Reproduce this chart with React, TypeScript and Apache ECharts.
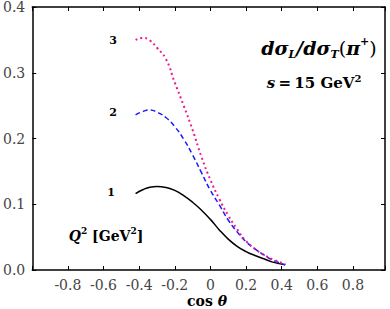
import React, { useEffect, useRef } from "react";
import * as echarts from "echarts";

const cosTheta = [-0.42, -0.38, -0.34, -0.30, -0.25, -0.20, -0.15, -0.10, -0.05, 0, 0.05, 0.10, 0.15, 0.20, 0.25, 0.30, 0.35, 0.42];
const q2One = [0.116, 0.122, 0.126, 0.127, 0.1255, 0.121, 0.113, 0.103, 0.091, 0.077, 0.061, 0.047, 0.036, 0.028, 0.022, 0.017, 0.012, 0.008];
const q2Two = [0.236, 0.241, 0.2435, 0.240, 0.232, 0.218, 0.199, 0.175, 0.148, 0.121, 0.099, 0.076, 0.058, 0.043, 0.032, 0.023, 0.015, 0.008];
const q2Three = [0.350, 0.353, 0.349, 0.338, 0.321, 0.285, 0.250, 0.213, 0.172, 0.137, 0.108, 0.083, 0.062, 0.044, 0.032, 0.023, 0.016, 0.009];
const curveLabels = ["1", "2", "3"];

const FONT = "DejaVu Serif";

function pairs(ys: number[]) {
  return cosTheta.map((x, i) => [x, ys[i]]);
}

export default function App() {
  const ref = useRef<HTMLDivElement>(null);
  useEffect(() => {
    document.body.style.margin = "0";
    if (!ref.current) return;
    const chart = echarts.init(ref.current, undefined, { renderer: "svg" });
    const tickStyle = { show: true, inside: true, length: 4, lineStyle: { color: "#000", width: 1 } };
    const lineStyleAxis = { show: true, onZero: false, lineStyle: { color: "#000", width: 1.5 } };
    chart.setOption({
      animation: false,
      grid: { left: 30, top: 6, width: 355, height: 264, containLabel: false },
      xAxis: [
        {
          type: "value",
          min: -1,
          max: 0.98,
          interval: 0.2,
          axisLine: lineStyleAxis,
          axisTick: tickStyle,
          splitLine: { show: false },
          axisLabel: {
            margin: 8,
            color: "#444",
            fontFamily: FONT,
            fontSize: 14,
            lineHeight: 14,
            formatter: (v: number) =>
              v < -0.99 || v > 0.9 ? "" : Math.abs(v) < 1e-9 ? "0" : String(Number(v.toFixed(1))),
          },
        },
        {
          type: "value",
          position: "top",
          min: -1,
          max: 0.98,
          interval: 0.2,
          axisLine: lineStyleAxis,
          axisTick: tickStyle,
          splitLine: { show: false },
          axisLabel: { show: false },
        },
      ],
      yAxis: [
        {
          type: "value",
          min: 0,
          max: 0.4,
          interval: 0.1,
          axisLine: lineStyleAxis,
          axisTick: tickStyle,
          splitLine: { show: false },
          axisLabel: {
            margin: 7,
            color: "#444",
            fontFamily: FONT,
            fontSize: 14,
            formatter: (v: number) => v.toFixed(1),
          },
        },
        {
          type: "value",
          position: "right",
          min: 0,
          max: 0.4,
          interval: 0.1,
          axisLine: lineStyleAxis,
          axisTick: tickStyle,
          splitLine: { show: false },
          axisLabel: { show: false },
        },
      ],
      series: [
        {
          type: "line",
          data: pairs(q2One),
          smooth: true,
          showSymbol: false,
          lineStyle: { color: "#000", width: 1.5 },
        },
        {
          type: "line",
          data: pairs(q2Two),
          smooth: true,
          showSymbol: false,
          lineStyle: { color: "#1a1aff", width: 1.5, type: [5, 3] },
        },
        {
          type: "line",
          data: pairs(q2Three),
          smooth: true,
          showSymbol: false,
          lineStyle: { color: "#ee1a8f", width: 2, type: [2, 3] },
        },
      ],
      graphic: [
        {
          type: "text",
          x: 319,
          y: 48,
          style: {
            text: "{b|d}{g|σ}{s|L}{b|/d}{g|σ}{s|T}{r|(}{g|π}{p|+}{r|)}",
            align: "center",
            verticalAlign: "middle",
            fill: "#000",
            rich: {
              b: { fontFamily: FONT, fontSize: 19, fontWeight: "bold", fontStyle: "italic", lineHeight: 24 },
              g: { fontFamily: FONT, fontSize: 19, fontWeight: "bold", fontStyle: "italic", lineHeight: 24 },
              r: { fontFamily: FONT, fontSize: 19, fontWeight: "normal", lineHeight: 24 },
              s: { fontFamily: FONT, fontSize: 11, fontWeight: "bold", fontStyle: "italic", lineHeight: 13, verticalAlign: "bottom" },
              p: { fontFamily: FONT, fontSize: 11, fontWeight: "bold", lineHeight: 13, verticalAlign: "top" },
            },
          },
        },
        {
          type: "text",
          x: 314,
          y: 83,
          style: {
            text: "{i|s} {b|=} {b|15 GeV}{p|2}",
            align: "center",
            verticalAlign: "middle",
            fill: "#000",
            rich: {
              i: { fontFamily: FONT, fontSize: 15, fontWeight: "bold", fontStyle: "italic", lineHeight: 20 },
              b: { fontFamily: FONT, fontSize: 15, fontWeight: "bold", lineHeight: 20 },
              p: { fontFamily: FONT, fontSize: 10, fontWeight: "bold", lineHeight: 12, verticalAlign: "top" },
            },
          },
        },
        {
          type: "text",
          x: 207,
          y: 301,
          style: {
            text: "{b|cos }{i|θ}",
            align: "center",
            verticalAlign: "middle",
            fill: "#000",
            rich: {
              b: { fontFamily: FONT, fontSize: 14, fontWeight: "bold", lineHeight: 14 },
              i: { fontFamily: FONT, fontSize: 14, fontWeight: "bold", fontStyle: "italic", lineHeight: 14 },
            },
          },
        },
        {
          type: "text",
          x: 106,
          y: 236,
          style: {
            text: "{i|Q}{p|2}{b| [GeV}{p|2}{b|]}",
            align: "center",
            verticalAlign: "middle",
            fill: "#000",
            rich: {
              i: { fontFamily: FONT, fontSize: 14, fontWeight: "bold", fontStyle: "italic", lineHeight: 20 },
              b: { fontFamily: FONT, fontSize: 14, fontWeight: "bold", lineHeight: 20 },
              p: { fontFamily: FONT, fontSize: 9, fontWeight: "bold", lineHeight: 12, verticalAlign: "top" },
            },
          },
        },
        {
          type: "text",
          x: 111,
          y: 192,
          style: { text: curveLabels[0], align: "center", verticalAlign: "middle", fontFamily: FONT, fontSize: 11, fontWeight: "bold", fill: "#000" },
        },
        {
          type: "text",
          x: 113,
          y: 112,
          style: { text: curveLabels[1], align: "center", verticalAlign: "middle", fontFamily: FONT, fontSize: 11, fontWeight: "bold", fill: "#000" },
        },
        {
          type: "text",
          x: 113,
          y: 40,
          style: { text: curveLabels[2], align: "center", verticalAlign: "middle", fontFamily: FONT, fontSize: 11, fontWeight: "bold", fill: "#000" },
        },
      ],
    });
    return () => chart.dispose();
  }, []);
  return <div ref={ref} style={{ width: 390, height: 309 }} />;
}
